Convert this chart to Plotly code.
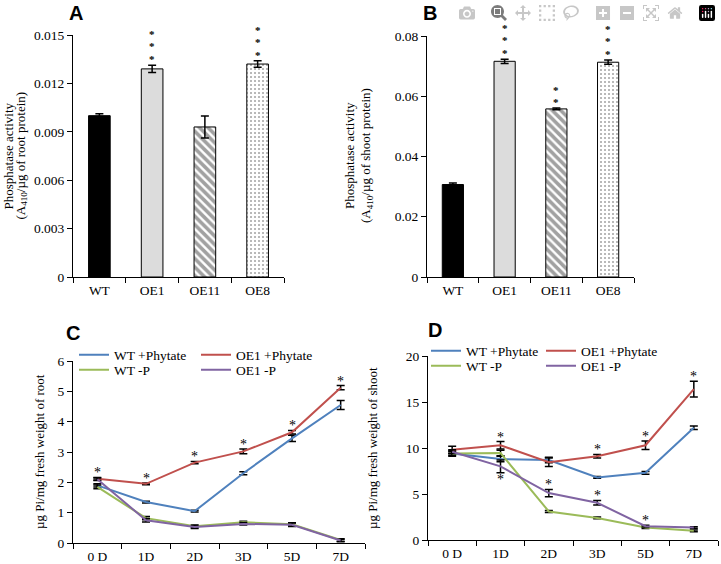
import plotly.graph_objects as go

# screen positions below are in pixels of the 721x564 page; the page's default
# body margin is removed after plotting so the figure fills the page exactly
SCREEN_W, SCREEN_H = 721, 564
OFF = 0
W, H = SCREEN_W - OFF, SCREEN_H - OFF

# ---------------- data ----------------
lines_bar = ["WT", "OE1", "OE11", "OE8"]
root_activity = [0.0100, 0.0129, 0.0093, 0.0132]
root_activity_err = [0.00012, 0.00022, 0.00068, 0.00020]
shoot_activity = [0.0307, 0.0716, 0.0558, 0.0713]
shoot_activity_err = [0.0005, 0.0007, 0.0003, 0.0007]
root_stars = ["", "***", "", "***"]
shoot_stars = ["", "***", "**", "***"]

days = ["0 D", "1D", "2D", "3D", "5D", "7D"]
series_names = ["WT +Phytate", "OE1 +Phytate", "WT -P", "OE1 -P"]
series_colors = ["#4F81BD", "#C0504D", "#9BBB59", "#8064A2"]

root_wt_phy = [1.90, 1.35, 1.05, 2.30, 3.45, 4.55]
root_wt_phy_err = [0.05, 0.03, 0.03, 0.05, 0.10, 0.15]
root_oe_phy = [2.12, 1.95, 2.65, 3.02, 3.65, 5.12]
root_oe_phy_err = [0.04, 0.03, 0.04, 0.08, 0.06, 0.07]
root_wt_p = [1.85, 0.82, 0.55, 0.68, 0.62, 0.10]
root_wt_p_err = [0.06, 0.05, 0.04, 0.04, 0.05, 0.04]
root_oe_p = [2.10, 0.75, 0.53, 0.63, 0.60, 0.08]
root_oe_p_err = [0.04, 0.06, 0.05, 0.04, 0.06, 0.04]

shoot_wt_phy = [9.4, 8.8, 8.7, 6.8, 7.3, 12.2]
shoot_wt_phy_err = [0.3, 0.3, 0.3, 0.1, 0.15, 0.2]
shoot_oe_phy = [9.8, 10.3, 8.45, 9.1, 10.3, 16.4]
shoot_oe_phy_err = [0.4, 0.4, 0.45, 0.2, 0.45, 0.85]
shoot_wt_p = [9.4, 9.45, 3.1, 2.4, 1.35, 1.0]
shoot_wt_p_err = [0.2, 0.3, 0.1, 0.1, 0.1, 0.1]
shoot_oe_p = [9.6, 8.0, 5.1, 4.05, 1.5, 1.35]
shoot_oe_p_err = [0.2, 0.7, 0.4, 0.25, 0.1, 0.1]

# stars: (day index, series index, 'above'/'below')
root_star_marks = [(i, 1, "above") for i in range(6)]
shoot_star_marks = [(1, 1, "above"), (1, 3, "below"), (2, 3, "above"),
                    (3, 1, "above"), (3, 3, "above"), (4, 1, "above"),
                    (4, 3, "above"), (5, 1, "above")]

SERIF = "Liberation Serif"
SANS = "Liberation Sans"
BLACK = "black"

fig = go.Figure()

def pxx(s):
    return (s - OFF) / W

def pxy(s):
    return (H - (s - OFF)) / H

def px_dom_x(a, b):
    return [pxx(a), pxx(b)]

def px_dom_y(top, bottom):
    return [pxy(bottom), pxy(top)]

# ---------------- bar panels ----------------
bar_fill = ["black", "#DCDCDC", "white", "white"]
bar_shape = ["", "", "\\", "."]
bar_solidity = [0.3, 0.3, 0.6, 0.2]
bar_psize = [6, 6, 6, 4]

for vals, errs, xa, ya in [(root_activity, root_activity_err, "x", "y"),
                           (shoot_activity, shoot_activity_err, "x2", "y2")]:
    fig.add_trace(go.Bar(
        x=lines_bar, y=vals, xaxis=xa, yaxis=ya, width=0.41,
        marker=dict(color=bar_fill,
                    line=dict(color=BLACK, width=1),
                    pattern=dict(shape=bar_shape, fgcolor=BLACK, bgcolor=bar_fill,
                                 size=bar_psize, solidity=bar_solidity,
                                 fillmode="overlay")),
        error_y=dict(type="data", array=errs, color=BLACK, thickness=1.5, width=4),
        showlegend=False, hoverinfo="skip"))

# ---------------- line panels ----------------
root_sets = [(root_wt_phy, root_wt_phy_err), (root_oe_phy, root_oe_phy_err),
             (root_wt_p, root_wt_p_err), (root_oe_p, root_oe_p_err)]
shoot_sets = [(shoot_wt_phy, shoot_wt_phy_err), (shoot_oe_phy, shoot_oe_phy_err),
              (shoot_wt_p, shoot_wt_p_err), (shoot_oe_p, shoot_oe_p_err)]
legend_map_c = ["legend", "legend2", "legend3", "legend4"]
legend_map_d = ["legend5", "legend6", "legend7", "legend8"]

for sets, xa, ya, lmap in [(root_sets, "x3", "y3", legend_map_c),
                           (shoot_sets, "x4", "y4", legend_map_d)]:
    for k, (vals, errs) in enumerate(sets):
        fig.add_trace(go.Scatter(
            x=days, y=vals, xaxis=xa, yaxis=ya, mode="lines",
            name=series_names[k], legend=lmap[k],
            line=dict(color=series_colors[k], width=2),
            error_y=dict(type="data", array=errs, color=BLACK, thickness=1.5, width=4),
            hoverinfo="skip"))

# ---------------- axes ----------------
axis_common = dict(showline=True, linecolor=BLACK, linewidth=1, showgrid=False,
                   zeroline=False, ticks="outside", tickcolor=BLACK, ticklen=5,
                   automargin=False,
                   tickfont=dict(family=SERIF, size=13.5, color=BLACK))

fig.update_layout(
    xaxis=dict(domain=px_dom_x(73, 284), anchor="y", type="category",
               tickson="boundaries", range=[-0.5, 3.5], ticklabelstandoff=1,
               **axis_common),
    yaxis=dict(domain=px_dom_y(35, 277), anchor="x", range=[0, 0.015], dtick=0.003,
               tick0=0, **axis_common),
    xaxis2=dict(domain=px_dom_x(427, 634), anchor="y2", type="category",
                tickson="boundaries", range=[-0.5, 3.5], ticklabelstandoff=1,
                **axis_common),
    yaxis2=dict(domain=px_dom_y(36, 277), anchor="x2", range=[0, 0.08], dtick=0.02,
                tick0=0, **axis_common),
    xaxis3=dict(domain=px_dom_x(73, 365), anchor="y3", type="category",
                tickson="boundaries", range=[-0.5, 5.5], ticklabelstandoff=1,
                **axis_common),
    yaxis3=dict(domain=px_dom_y(361, 543), anchor="x3", range=[0, 6], dtick=1,
                **axis_common),
    xaxis4=dict(domain=px_dom_x(428, 718), anchor="y4", type="category",
                tickson="boundaries", range=[-0.5, 5.5], ticklabelstandoff=1,
                **axis_common),
    yaxis4=dict(domain=px_dom_y(356, 540), anchor="x4", range=[0, 20], dtick=5,
                **axis_common),
)

# ---------------- legends (one entry each, placed in a 2x2 grid) ----------------
def leg(xs, ys):
    return dict(x=pxx(xs), y=pxy(ys), xanchor="left", yanchor="middle",
                bgcolor="rgba(0,0,0,0)", borderwidth=0, tracegroupgap=0,
                font=dict(family=SERIF, size=13.5, color=BLACK),
                itemwidth=30)

fig.update_layout(
    legend=leg(74, 355), legend2=leg(196, 355),
    legend3=leg(74, 370), legend4=leg(196, 370),
    legend5=leg(426, 351), legend6=leg(541, 351),
    legend7=leg(426, 366), legend8=leg(541, 366),
)

# ---------------- annotations ----------------
ann = []
for txt, xs, ys in [("A", 76, 12.5), ("B", 430, 12.5), ("C", 73, 333), ("D", 435, 330)]:
    ann.append(dict(text=txt, x=pxx(xs), y=pxy(ys), xref="paper", yref="paper",
                    xanchor="center", yanchor="middle", showarrow=False, borderpad=0,
                    font=dict(family=SANS, size=20, color=BLACK, weight="bold")))

ytitles = [
    ("Phosphatase activity", 8.5, 156),
    ("(A<sub>410</sub>/µg of root protein)", 21.5, 156),
    ("Phosphatase activity", 350, 156),
    ("(A<sub>410</sub>/µg of shoot protein)", 367, 156),
    ("µg Pi/mg fresh weight of root", 40, 452),
    ("µg Pi/mg fresh weight of shoot", 372, 448),
]
for txt, xs, ys in ytitles:
    ann.append(dict(text=txt, x=pxx(xs), y=pxy(ys), xref="paper", yref="paper",
                    xanchor="center", yanchor="middle", textangle=-90, showarrow=False,
                    borderpad=0, font=dict(family=SERIF, size=13, color=BLACK)))

def star(xref, yref, x, y, text, shift, below=False, size=14):
    return dict(text=text, x=x, y=y, xref=xref, yref=yref, showarrow=False,
                xanchor="center", yanchor="top" if below else "bottom",
                yshift=shift, font=dict(family=SERIF, size=size, color=BLACK))

BIG = '<span style="font-size:11px"><b>*</b></span>'
for vals, errs, stars, xr, yr in [(root_activity, root_activity_err, root_stars, "x", "y"),
                                  (shoot_activity, shoot_activity_err, shoot_stars, "x2", "y2")]:
    for i, s in enumerate(stars):
        if s:
            ann.append(star(xr, yr, lines_bar[i], vals[i] + errs[i],
                            "<br>".join([BIG] * len(s)), -2, size=9.5))

for marks, sets, xr, yr in [(root_star_marks, root_sets, "x3", "y3"),
                            (shoot_star_marks, shoot_sets, "x4", "y4")]:
    for (d, si, pos) in marks:
        v, e = sets[si][0][d], sets[si][1][d]
        if pos == "above":
            ann.append(star(xr, yr, days[d], v + e, "*", -5))
        else:
            ann.append(star(xr, yr, days[d], v - e, "*", 3, below=True))

fig.update_layout(
    annotations=ann,
    template="none",
    width=W, height=H, margin=dict(l=0, r=0, t=0, b=0, pad=0, autoexpand=False),
    paper_bgcolor="white", plot_bgcolor="white",
    font=dict(family=SERIF, color=BLACK),
)

fig.write_html("out.html", post_script="document.body.style.margin='0';")
